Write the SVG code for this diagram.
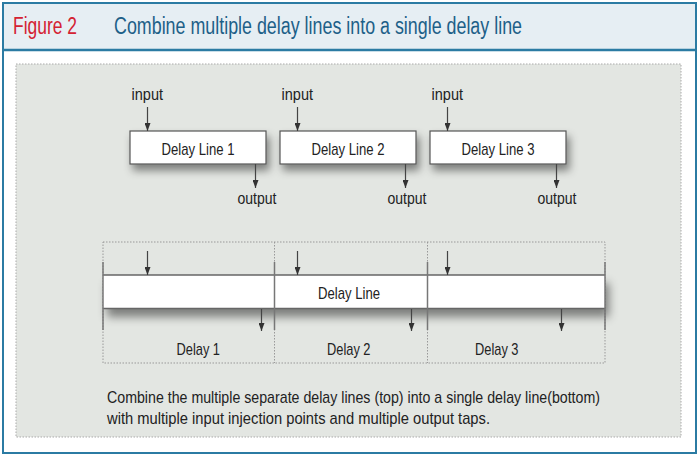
<svg xmlns="http://www.w3.org/2000/svg" width="700" height="457" viewBox="0 0 700 457">
<style>
.lbl{font-family:"Liberation Sans Narrow","Liberation Sans",Arial,sans-serif;fill:#222;}
.box{fill:#fff;stroke:#555;stroke-width:1.2;}
.arr{stroke:#444;stroke-width:1.2;fill:none;marker-end:url(#ah);}
.dot{stroke:#999;stroke-width:1;stroke-dasharray:1.5 1.5;fill:none;}
.tick{stroke:#777;stroke-width:1.5;}
</style>
<defs>
<marker id="ah" viewBox="0 0 8 6" refX="8" refY="3" markerWidth="8" markerHeight="6" markerUnits="userSpaceOnUse" orient="auto">
<path d="M0,0 L8,3 L0,6 Z" fill="#333"/>
</marker>
<filter id="sh" x="-10%" y="-30%" width="125%" height="190%">
<feDropShadow dx="3" dy="6" stdDeviation="4" flood-color="#000" flood-opacity="0.45"/>
</filter>
<filter id="sh2" x="-5%" y="-30%" width="112%" height="200%">
<feDropShadow dx="4" dy="8" stdDeviation="5" flood-color="#000" flood-opacity="0.45"/>
</filter>
</defs>

<g id="frame">
<rect x="3" y="3" width="693" height="450" fill="#fff" stroke="#2b7ba3" stroke-width="2"/>
<rect x="4" y="4" width="691" height="46" fill="#e6eef3"/>
<line x1="3" y1="50" x2="696" y2="50" stroke="#2b7ba3" stroke-width="2.5"/>
<text x="13" y="34" font-family="'Liberation Sans Narrow','Liberation Sans',sans-serif" font-size="23" fill="#d42232" textLength="64" lengthAdjust="spacingAndGlyphs">Figure 2</text>
<text x="114" y="34" font-family="'Liberation Sans Narrow','Liberation Sans',sans-serif" font-size="23" fill="#1d6088" textLength="408" lengthAdjust="spacingAndGlyphs">Combine multiple delay lines into a single delay line</text>
<rect x="16" y="64" width="665" height="373" fill="#e3e6e2" stroke="#aaa" stroke-width="1" stroke-dasharray="1.5 1.5"/>
</g>

<g id="delay-line-1">
<rect class="box" x="130" y="131" width="136" height="33" filter="url(#sh)"/>
<text class="lbl" x="161.5" y="154.5" font-size="17" textLength="73" lengthAdjust="spacingAndGlyphs">Delay Line 1</text>
<text class="lbl" x="131.5" y="100" font-size="16.5" textLength="31.5" lengthAdjust="spacingAndGlyphs">input</text>
<text class="lbl" x="237.5" y="204" font-size="16.5" textLength="39" lengthAdjust="spacingAndGlyphs">output</text>
</g>
<g id="delay-line-2">
<rect class="box" x="280" y="131" width="136" height="33" filter="url(#sh)"/>
<text class="lbl" x="311.5" y="154.5" font-size="17" textLength="73" lengthAdjust="spacingAndGlyphs">Delay Line 2</text>
<text class="lbl" x="281.5" y="100" font-size="16.5" textLength="31.5" lengthAdjust="spacingAndGlyphs">input</text>
<text class="lbl" x="387.5" y="204" font-size="16.5" textLength="39" lengthAdjust="spacingAndGlyphs">output</text>
</g>
<g id="delay-line-3">
<rect class="box" x="430" y="131" width="136" height="33" filter="url(#sh)"/>
<text class="lbl" x="461.5" y="154.5" font-size="17" textLength="73" lengthAdjust="spacingAndGlyphs">Delay Line 3</text>
<text class="lbl" x="431.5" y="100" font-size="16.5" textLength="31.5" lengthAdjust="spacingAndGlyphs">input</text>
<text class="lbl" x="537.5" y="204" font-size="16.5" textLength="39" lengthAdjust="spacingAndGlyphs">output</text>
</g>

<g id="combined-delay-line">
<rect class="dot" x="103" y="242" width="502" height="121"/>
<line class="dot" x1="274.5" y1="242" x2="274.5" y2="363"/>
<line class="dot" x1="427.5" y1="242" x2="427.5" y2="363"/>
<rect x="103" y="275" width="502" height="34" fill="#fff" filter="url(#sh2)"/>
<line x1="103" y1="275" x2="605" y2="275" stroke="#666" stroke-width="1.5"/>
<line x1="103" y1="308.5" x2="605" y2="308.5" stroke="#666" stroke-width="1.5"/>
<line class="tick" x1="103" y1="262" x2="103" y2="330" stroke="#555" stroke-width="2"/>
<line class="tick" x1="274.5" y1="262" x2="274.5" y2="330"/>
<line class="tick" x1="427.5" y1="262" x2="427.5" y2="330"/>
<line class="tick" x1="605" y1="262" x2="605" y2="330"/>
<text class="lbl" x="318" y="298.5" font-size="17" textLength="62" lengthAdjust="spacingAndGlyphs">Delay Line</text>
<text class="lbl" x="176.5" y="354.5" font-size="17" textLength="43.5" lengthAdjust="spacingAndGlyphs">Delay 1</text>
<text class="lbl" x="327" y="354.5" font-size="17" textLength="43.5" lengthAdjust="spacingAndGlyphs">Delay 2</text>
<text class="lbl" x="475" y="354.5" font-size="17" textLength="43.5" lengthAdjust="spacingAndGlyphs">Delay 3</text>
</g>

<g id="connectors">
<line class="arr" x1="147.5" y1="107" x2="147.5" y2="131"/>
<line class="arr" x1="297.5" y1="107" x2="297.5" y2="131"/>
<line class="arr" x1="447.5" y1="107" x2="447.5" y2="131"/>
<line class="arr" x1="255.5" y1="164" x2="255.5" y2="188"/>
<line class="arr" x1="405.5" y1="164" x2="405.5" y2="188"/>
<line class="arr" x1="556.5" y1="164" x2="556.5" y2="188"/>
<line class="arr" x1="147.5" y1="251" x2="147.5" y2="275"/>
<line class="arr" x1="297.5" y1="251" x2="297.5" y2="275"/>
<line class="arr" x1="447.5" y1="251" x2="447.5" y2="275"/>
<line class="arr" x1="261.5" y1="309" x2="261.5" y2="331"/>
<line class="arr" x1="411.5" y1="309" x2="411.5" y2="331"/>
<line class="arr" x1="561.5" y1="309" x2="561.5" y2="331"/>
</g>

<g id="caption">
<text class="lbl" x="107" y="403" font-size="17" textLength="493" lengthAdjust="spacingAndGlyphs">Combine the multiple separate delay lines (top) into a single delay line(bottom)</text>
<text class="lbl" x="107" y="424" font-size="17" textLength="383" lengthAdjust="spacingAndGlyphs">with multiple input injection points and multiple output taps.</text>
</g>
</svg>
